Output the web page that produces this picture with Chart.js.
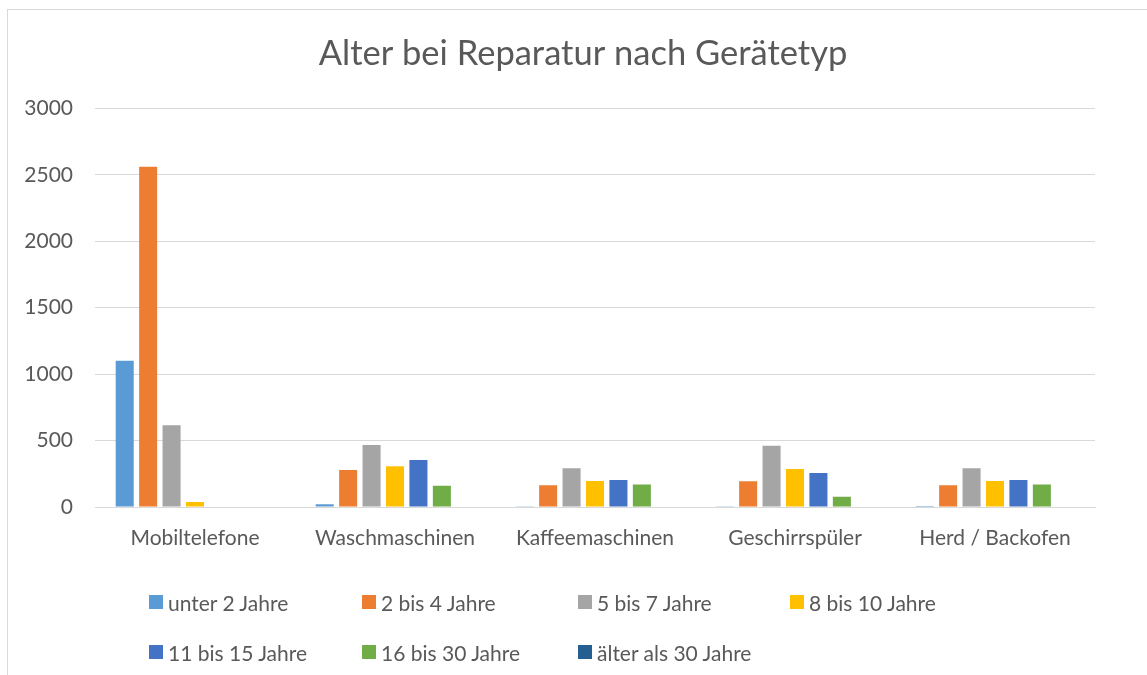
<!DOCTYPE html>
<html>
<head>
<meta charset="utf-8">
<script src="https://cdn.jsdelivr.net/npm/chart.js@4/dist/chart.umd.min.js"></script>
<style>
  body { margin: 0; background: #fff; }
  #frame {
    position: absolute; left: 7px; top: 9px; right: 0; bottom: 0;
    border-left: 1px solid #d9d9d9; border-top: 1px solid #d9d9d9;
  }
  #wrap { position: absolute; left: 0; top: 0; width: 1147px; height: 675px; }
  #legend {
    position: absolute; left: 149px; top: 589px;
    display: grid; grid-template-columns: 213px 216px 212px 213px;
    row-gap: 24px;
    font-family: "Lato", sans-serif; font-size: 21px; color: #595959;
  }
  #legend .item { display: flex; align-items: center; height: 26px; white-space: nowrap; }
  #legend .box { width: 14px; height: 14px; margin-right: 5px; }
</style>
</head>
<body>
<div id="frame"></div>
<div id="wrap">
  <canvas id="barChart" width="1147" height="675"></canvas>
  <div id="legend"></div>
</div>
<script>
//Alter bei Reparatur nach Gerätetyp

const categories = ["Mobiltelefone", "Waschmaschinen", "Kaffeemaschinen", "Geschirrspüler", "Herd / Backofen"];
const seriesNames = ["unter 2 Jahre", "2 bis 4 Jahre", "5 bis 7 Jahre", "8 bis 10 Jahre", "11 bis 15 Jahre", "16 bis 30 Jahre", "älter als 30 Jahre"];
const seriesColors = ["#5b9bd5", "#ed7d31", "#a5a5a5", "#ffc000", "#4472c4", "#70ad47", "#255e91"];

const unter2 = [1100, 20, 5, 5, 7];
const bis4 = [2560, 278, 163, 193, 163];
const bis7 = [615, 466, 291, 461, 291];
const bis10 = [38, 306, 195, 286, 195];
const bis15 = [0, 353, 203, 256, 203];
const bis30 = [0, 160, 170, 78, 170];
const ueber30 = [0, 3, 0, 0, 0];

const yTicks = [0, 500, 1000, 1500, 2000, 2500, 3000];

const seriesValues = [unter2, bis4, bis7, bis10, bis15, bis30, ueber30];

// setup
const data = {
    labels: categories,
    datasets: seriesNames.map((name, i) => ({
        label: name,
        data: seriesValues[i],
        backgroundColor: seriesColors[i],
        categoryPercentage: 0.82,
        barPercentage: 0.77,
    })),
};

// html legend, one grid cell per dataset
const htmlLegend = {
    id: "htmlLegend",
    afterUpdate(chart) {
        const box = document.getElementById("legend");
        box.innerHTML = "";
        chart.data.datasets.forEach((ds) => {
            const item = document.createElement("div");
            item.className = "item";
            const sw = document.createElement("span");
            sw.className = "box";
            sw.style.background = ds.backgroundColor;
            const txt = document.createElement("span");
            txt.textContent = ds.label;
            item.appendChild(sw);
            item.appendChild(txt);
            box.appendChild(item);
        });
    },
};

//config
const config = {
    type: "bar",
    data: data,
    options: {
        responsive: false,
        animation: false,
        layout: {
            // left padding keeps the title centred on the frame
            padding: { left: 19, right: 0, top: 0, bottom: 108 },
        },
        scales: {
            x: {
                grid: { display: false },
                border: { color: "#d9d9d9" },
                ticks: {
                    color: "#595959",
                    padding: 11,
                    maxRotation: 0,
                    font: { family: "Lato", size: 21 },
                },
                afterFit: (axis) => { axis.height = 60; },
            },
            y: {
                min: 0,
                max: 3000,
                border: { display: false },
                grid: { color: "#d9d9d9", drawTicks: false },
                afterBuildTicks: (axis) => {
                    axis.ticks = yTicks.map((v) => ({ value: v }));
                },
                ticks: {
                    color: "#595959",
                    padding: 22,
                    font: { family: "Lato", size: 21 },
                    callback: function (value) {
                        return String(value);
                    },
                },
                afterFit: (axis) => { axis.width = 76; },
            },
            // empty right gutter so the plot stops short of the frame edge
            gutter: {
                position: "right",
                grid: { display: false },
                border: { display: false },
                ticks: { display: false },
                afterFit: (axis) => { axis.width = 52; },
            },
        },
        plugins: {
            title: {
                display: true,
                text: "Alter bei Reparatur nach Gerätetyp",
                color: "#595959",
                font: { family: "Lato", size: 34.5, weight: "normal" },
                padding: { top: 33, bottom: 34 },
            },
            legend: { display: false },
            tooltip: { enabled: false },
        },
    },
    plugins: [htmlLegend],
};

//render init block
const barChart = new Chart(
    document.getElementById("barChart").getContext("2d"),
    config
);
</script>
</body>
</html>
